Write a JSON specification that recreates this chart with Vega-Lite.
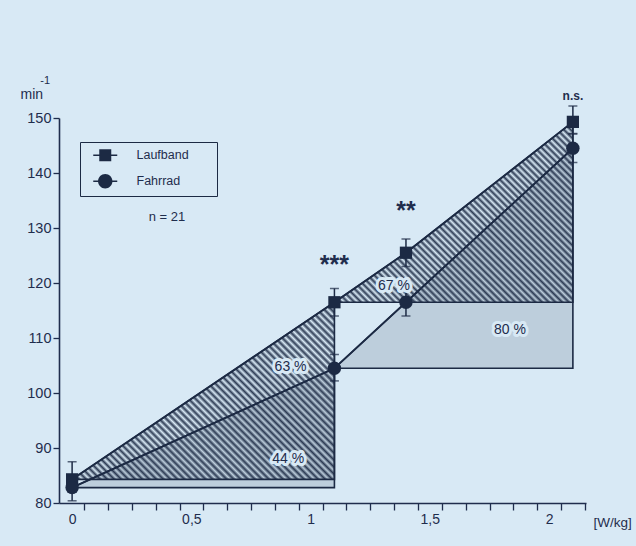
{
  "$schema": "https://vega.github.io/schema/vega-lite/v6.json",
  "width": 527,
  "height": 385,
  "autosize": {"type": "none"},
  "padding": {"left": 59, "top": 118, "right": 50, "bottom": 43},
  "background": "#d8e9f5",
  "config": {
    "view": {"stroke": null},
    "font": "Liberation Sans",
    "axis": {"domainColor": "#1f2d4d", "domainWidth": 1.6, "tickColor": "#1f2d4d", "tickWidth": 1.3, "labelColor": "#1f2d4d", "labelFont": "Liberation Sans", "labelFontSize": 14, "titleFont": "Liberation Sans", "titleFontSize": 14, "titleFontWeight": "normal", "titleColor": "#1f2d4d", "grid": false}
  },
  "datasets": {
    "means": [
      {"series": "Laufband", "x": 0, "y": 84.3},
      {"series": "Laufband", "x": 1.1, "y": 116.5},
      {"series": "Laufband", "x": 1.4, "y": 125.5},
      {"series": "Laufband", "x": 2.1, "y": 149.3},
      {"series": "Fahrrad", "x": 0, "y": 82.8},
      {"series": "Fahrrad", "x": 1.1, "y": 104.5},
      {"series": "Fahrrad", "x": 1.4, "y": 116.5},
      {"series": "Fahrrad", "x": 2.1, "y": 144.5}
    ],
    "err": [
      {"series": "Laufband", "x": 0, "y": 82.0, "y2": 87.5},
      {"series": "Laufband", "x": 1.1, "y": 114.0, "y2": 119.0},
      {"series": "Laufband", "x": 1.4, "y": 123.0, "y2": 128.0},
      {"series": "Laufband", "x": 2.1, "y": 147.2, "y2": 152.2},
      {"series": "Fahrrad", "x": 0, "y": 80.4, "y2": 84.5},
      {"series": "Fahrrad", "x": 1.1, "y": 102.2, "y2": 107.0},
      {"series": "Fahrrad", "x": 1.4, "y": 114.0, "y2": 119.0},
      {"series": "Fahrrad", "x": 2.1, "y": 141.9, "y2": 147.1}
    ],
    "regions": [
      {"r": "A", "x": 0, "y": 84.3, "b": 84.3},
      {"r": "A", "x": 1.1, "y": 116.5, "b": 84.3},
      {"r": "B", "x": 0, "y": 82.8, "b": 82.8},
      {"r": "B", "x": 1.1, "y": 104.5, "b": 82.8},
      {"r": "C", "x": 1.1, "y": 116.5, "b": 116.5},
      {"r": "C", "x": 1.4, "y": 125.5, "b": 116.5},
      {"r": "C", "x": 2.1, "y": 149.3, "b": 116.5},
      {"r": "D", "x": 1.1, "y": 104.5, "b": 104.5},
      {"r": "D", "x": 1.4, "y": 116.5, "b": 104.5},
      {"r": "D", "x": 2.1, "y": 144.5, "b": 104.5}
    ],
    "pct": [
      {"x": 0.916, "y": 104.8, "t": "63 %"},
      {"x": 0.906, "y": 88.0, "t": "44 %"},
      {"x": 1.35, "y": 119.5, "t": "67 %"},
      {"x": 1.836, "y": 111.5, "t": "80 %"}
    ],
    "stars": [
      {"x": 1.1, "y": 123.3, "t": "***"},
      {"x": 1.4, "y": 133.1, "t": "**"}
    ],
    "ns": [{"x": 2.1, "y": 154.0, "t": "n.s."}],
    "n": [{"x": 0.398, "y": 132.0, "t": "n = 21"}],
    "unit": [{"x": -0.113, "y": 156.7, "t": "-1"}]
  },
  "encoding": {
    "x": {"field": "x", "type": "quantitative", "scale": {"domain": [-0.055, 2.155], "nice": false, "zero": false},
      "axis": {"values": [0, 0.1, 0.2, 0.3, 0.4, 0.5, 0.6, 0.7, 0.8, 0.9, 1, 1.1, 1.2, 1.3, 1.4, 1.5, 1.6, 1.7, 1.8, 1.9, 2, 2.1], "tickOffset": 12, "labelOffset": -12, "labelExpr": "abs(datum.value*2-round(datum.value*2))<0.001 ? replace(toString(datum.value),'.',',') : ''", "labelOverlap": false, "labelFlush": false, "title": "[W/kg]", "titleFontSize": 13.5, "titleX": 534, "titleY": 19, "titleAlign": "left", "titleBaseline": "middle", "tickSize": 7, "labelPadding": 2}},
    "y": {"field": "y", "type": "quantitative", "scale": {"domain": [80, 150], "nice": false, "zero": false},
      "axis": {"values": [80, 90, 100, 110, 120, 130, 140, 150], "tickSize": 6, "labelPadding": 2, "labelFontSize": 14.5, "title": "min", "titleAngle": 0, "titleX": -39, "titleY": -24, "titleAlign": "left", "titleBaseline": "middle"}}
  },
  "layer": [
    {"data": {"name": "regions"}, "transform": [{"filter": "datum.r === 'D'"}],
      "mark": {"type": "area", "fill": "#1c2a44", "fillOpacity": 0.14, "stroke": "#1c2a44", "strokeWidth": 1.6},
      "encoding": {"y2": {"field": "b"}}},
    {"data": {"name": "regions"}, "transform": [{"filter": "datum.r === 'C'"}],
      "mark": {"type": "area", "fillOpacity": 0.9, "stroke": "#1c2a44", "strokeWidth": 1.6,
        "fill": {"gradient": "linear", "x1": 0, "y1": 1, "x2": 1.117, "y2": 0.155, "stops": [{"offset":0,"color":"#1c2a44"},{"offset":0.008,"color":"#1c2a4400"},{"offset":0.016,"color":"#1c2a44"},{"offset":0.024,"color":"#1c2a4400"},{"offset":0.032,"color":"#1c2a44"},{"offset":0.04,"color":"#1c2a4400"},{"offset":0.048,"color":"#1c2a44"},{"offset":0.056,"color":"#1c2a4400"},{"offset":0.064,"color":"#1c2a44"},{"offset":0.072,"color":"#1c2a4400"},{"offset":0.08,"color":"#1c2a44"},{"offset":0.088,"color":"#1c2a4400"},{"offset":0.096,"color":"#1c2a44"},{"offset":0.104,"color":"#1c2a4400"},{"offset":0.112,"color":"#1c2a44"},{"offset":0.12,"color":"#1c2a4400"},{"offset":0.128,"color":"#1c2a44"},{"offset":0.136,"color":"#1c2a4400"},{"offset":0.144,"color":"#1c2a44"},{"offset":0.152,"color":"#1c2a4400"},{"offset":0.16,"color":"#1c2a44"},{"offset":0.168,"color":"#1c2a4400"},{"offset":0.176,"color":"#1c2a44"},{"offset":0.184,"color":"#1c2a4400"},{"offset":0.192,"color":"#1c2a44"},{"offset":0.2,"color":"#1c2a4400"},{"offset":0.208,"color":"#1c2a44"},{"offset":0.216,"color":"#1c2a4400"},{"offset":0.224,"color":"#1c2a44"},{"offset":0.232,"color":"#1c2a4400"},{"offset":0.24,"color":"#1c2a44"},{"offset":0.248,"color":"#1c2a4400"},{"offset":0.256,"color":"#1c2a44"},{"offset":0.264,"color":"#1c2a4400"},{"offset":0.272,"color":"#1c2a44"},{"offset":0.28,"color":"#1c2a4400"},{"offset":0.288,"color":"#1c2a44"},{"offset":0.296,"color":"#1c2a4400"},{"offset":0.304,"color":"#1c2a44"},{"offset":0.312,"color":"#1c2a4400"},{"offset":0.32,"color":"#1c2a44"},{"offset":0.328,"color":"#1c2a4400"},{"offset":0.336,"color":"#1c2a44"},{"offset":0.344,"color":"#1c2a4400"},{"offset":0.352,"color":"#1c2a44"},{"offset":0.36,"color":"#1c2a4400"},{"offset":0.368,"color":"#1c2a44"},{"offset":0.376,"color":"#1c2a4400"},{"offset":0.384,"color":"#1c2a44"},{"offset":0.392,"color":"#1c2a4400"},{"offset":0.4,"color":"#1c2a44"},{"offset":0.408,"color":"#1c2a4400"},{"offset":0.416,"color":"#1c2a44"},{"offset":0.424,"color":"#1c2a4400"},{"offset":0.432,"color":"#1c2a44"},{"offset":0.44,"color":"#1c2a4400"},{"offset":0.448,"color":"#1c2a44"},{"offset":0.456,"color":"#1c2a4400"},{"offset":0.464,"color":"#1c2a44"},{"offset":0.472,"color":"#1c2a4400"},{"offset":0.48,"color":"#1c2a44"},{"offset":0.488,"color":"#1c2a4400"},{"offset":0.496,"color":"#1c2a44"},{"offset":0.504,"color":"#1c2a4400"},{"offset":0.512,"color":"#1c2a44"},{"offset":0.52,"color":"#1c2a4400"},{"offset":0.528,"color":"#1c2a44"},{"offset":0.536,"color":"#1c2a4400"},{"offset":0.544,"color":"#1c2a44"},{"offset":0.552,"color":"#1c2a4400"},{"offset":0.56,"color":"#1c2a44"},{"offset":0.568,"color":"#1c2a4400"},{"offset":0.576,"color":"#1c2a44"},{"offset":0.584,"color":"#1c2a4400"},{"offset":0.592,"color":"#1c2a44"},{"offset":0.6,"color":"#1c2a4400"},{"offset":0.608,"color":"#1c2a44"},{"offset":0.616,"color":"#1c2a4400"},{"offset":0.624,"color":"#1c2a44"},{"offset":0.632,"color":"#1c2a4400"},{"offset":0.64,"color":"#1c2a44"},{"offset":0.648,"color":"#1c2a4400"},{"offset":0.656,"color":"#1c2a44"},{"offset":0.664,"color":"#1c2a4400"},{"offset":0.672,"color":"#1c2a44"},{"offset":0.68,"color":"#1c2a4400"},{"offset":0.688,"color":"#1c2a44"},{"offset":0.696,"color":"#1c2a4400"},{"offset":0.704,"color":"#1c2a44"},{"offset":0.712,"color":"#1c2a4400"},{"offset":0.72,"color":"#1c2a44"},{"offset":0.728,"color":"#1c2a4400"},{"offset":0.736,"color":"#1c2a44"},{"offset":0.744,"color":"#1c2a4400"},{"offset":0.752,"color":"#1c2a44"},{"offset":0.76,"color":"#1c2a4400"},{"offset":0.768,"color":"#1c2a44"},{"offset":0.776,"color":"#1c2a4400"},{"offset":0.784,"color":"#1c2a44"},{"offset":0.792,"color":"#1c2a4400"},{"offset":0.8,"color":"#1c2a44"},{"offset":0.808,"color":"#1c2a4400"},{"offset":0.816,"color":"#1c2a44"},{"offset":0.824,"color":"#1c2a4400"},{"offset":0.832,"color":"#1c2a44"},{"offset":0.84,"color":"#1c2a4400"},{"offset":0.848,"color":"#1c2a44"},{"offset":0.856,"color":"#1c2a4400"},{"offset":0.864,"color":"#1c2a44"},{"offset":0.872,"color":"#1c2a4400"},{"offset":0.88,"color":"#1c2a44"},{"offset":0.888,"color":"#1c2a4400"},{"offset":0.896,"color":"#1c2a44"},{"offset":0.904,"color":"#1c2a4400"},{"offset":0.912,"color":"#1c2a44"},{"offset":0.92,"color":"#1c2a4400"},{"offset":0.928,"color":"#1c2a44"},{"offset":0.936,"color":"#1c2a4400"},{"offset":0.944,"color":"#1c2a44"},{"offset":0.952,"color":"#1c2a4400"},{"offset":0.96,"color":"#1c2a44"},{"offset":0.968,"color":"#1c2a4400"},{"offset":0.976,"color":"#1c2a44"},{"offset":0.984,"color":"#1c2a4400"},{"offset":0.992,"color":"#1c2a44"},{"offset":1,"color":"#1c2a4400"}]}},
      "encoding": {"y2": {"field": "b"}}},
    {"data": {"name": "regions"}, "transform": [{"filter": "datum.r === 'B'"}],
      "mark": {"type": "area", "fill": "#1c2a44", "fillOpacity": 0.14, "stroke": "#1c2a44", "strokeWidth": 1.6},
      "encoding": {"y2": {"field": "b"}}},
    {"data": {"name": "regions"}, "transform": [{"filter": "datum.r === 'A'"}],
      "mark": {"type": "area", "fillOpacity": 0.9, "stroke": "#1c2a44", "strokeWidth": 1.6,
        "fill": {"gradient": "linear", "x1": 0, "y1": 1, "x2": 1.151, "y2": 0.223, "stops": [{"offset":0,"color":"#1c2a44"},{"offset":0.008,"color":"#1c2a4400"},{"offset":0.016,"color":"#1c2a44"},{"offset":0.024,"color":"#1c2a4400"},{"offset":0.032,"color":"#1c2a44"},{"offset":0.04,"color":"#1c2a4400"},{"offset":0.048,"color":"#1c2a44"},{"offset":0.056,"color":"#1c2a4400"},{"offset":0.064,"color":"#1c2a44"},{"offset":0.072,"color":"#1c2a4400"},{"offset":0.08,"color":"#1c2a44"},{"offset":0.088,"color":"#1c2a4400"},{"offset":0.096,"color":"#1c2a44"},{"offset":0.104,"color":"#1c2a4400"},{"offset":0.112,"color":"#1c2a44"},{"offset":0.12,"color":"#1c2a4400"},{"offset":0.128,"color":"#1c2a44"},{"offset":0.136,"color":"#1c2a4400"},{"offset":0.144,"color":"#1c2a44"},{"offset":0.152,"color":"#1c2a4400"},{"offset":0.16,"color":"#1c2a44"},{"offset":0.168,"color":"#1c2a4400"},{"offset":0.176,"color":"#1c2a44"},{"offset":0.184,"color":"#1c2a4400"},{"offset":0.192,"color":"#1c2a44"},{"offset":0.2,"color":"#1c2a4400"},{"offset":0.208,"color":"#1c2a44"},{"offset":0.216,"color":"#1c2a4400"},{"offset":0.224,"color":"#1c2a44"},{"offset":0.232,"color":"#1c2a4400"},{"offset":0.24,"color":"#1c2a44"},{"offset":0.248,"color":"#1c2a4400"},{"offset":0.256,"color":"#1c2a44"},{"offset":0.264,"color":"#1c2a4400"},{"offset":0.272,"color":"#1c2a44"},{"offset":0.28,"color":"#1c2a4400"},{"offset":0.288,"color":"#1c2a44"},{"offset":0.296,"color":"#1c2a4400"},{"offset":0.304,"color":"#1c2a44"},{"offset":0.312,"color":"#1c2a4400"},{"offset":0.32,"color":"#1c2a44"},{"offset":0.328,"color":"#1c2a4400"},{"offset":0.336,"color":"#1c2a44"},{"offset":0.344,"color":"#1c2a4400"},{"offset":0.352,"color":"#1c2a44"},{"offset":0.36,"color":"#1c2a4400"},{"offset":0.368,"color":"#1c2a44"},{"offset":0.376,"color":"#1c2a4400"},{"offset":0.384,"color":"#1c2a44"},{"offset":0.392,"color":"#1c2a4400"},{"offset":0.4,"color":"#1c2a44"},{"offset":0.408,"color":"#1c2a4400"},{"offset":0.416,"color":"#1c2a44"},{"offset":0.424,"color":"#1c2a4400"},{"offset":0.432,"color":"#1c2a44"},{"offset":0.44,"color":"#1c2a4400"},{"offset":0.448,"color":"#1c2a44"},{"offset":0.456,"color":"#1c2a4400"},{"offset":0.464,"color":"#1c2a44"},{"offset":0.472,"color":"#1c2a4400"},{"offset":0.48,"color":"#1c2a44"},{"offset":0.488,"color":"#1c2a4400"},{"offset":0.496,"color":"#1c2a44"},{"offset":0.504,"color":"#1c2a4400"},{"offset":0.512,"color":"#1c2a44"},{"offset":0.52,"color":"#1c2a4400"},{"offset":0.528,"color":"#1c2a44"},{"offset":0.536,"color":"#1c2a4400"},{"offset":0.544,"color":"#1c2a44"},{"offset":0.552,"color":"#1c2a4400"},{"offset":0.56,"color":"#1c2a44"},{"offset":0.568,"color":"#1c2a4400"},{"offset":0.576,"color":"#1c2a44"},{"offset":0.584,"color":"#1c2a4400"},{"offset":0.592,"color":"#1c2a44"},{"offset":0.6,"color":"#1c2a4400"},{"offset":0.608,"color":"#1c2a44"},{"offset":0.616,"color":"#1c2a4400"},{"offset":0.624,"color":"#1c2a44"},{"offset":0.632,"color":"#1c2a4400"},{"offset":0.64,"color":"#1c2a44"},{"offset":0.648,"color":"#1c2a4400"},{"offset":0.656,"color":"#1c2a44"},{"offset":0.664,"color":"#1c2a4400"},{"offset":0.672,"color":"#1c2a44"},{"offset":0.68,"color":"#1c2a4400"},{"offset":0.688,"color":"#1c2a44"},{"offset":0.696,"color":"#1c2a4400"},{"offset":0.704,"color":"#1c2a44"},{"offset":0.712,"color":"#1c2a4400"},{"offset":0.72,"color":"#1c2a44"},{"offset":0.728,"color":"#1c2a4400"},{"offset":0.736,"color":"#1c2a44"},{"offset":0.744,"color":"#1c2a4400"},{"offset":0.752,"color":"#1c2a44"},{"offset":0.76,"color":"#1c2a4400"},{"offset":0.768,"color":"#1c2a44"},{"offset":0.776,"color":"#1c2a4400"},{"offset":0.784,"color":"#1c2a44"},{"offset":0.792,"color":"#1c2a4400"},{"offset":0.8,"color":"#1c2a44"},{"offset":0.808,"color":"#1c2a4400"},{"offset":0.816,"color":"#1c2a44"},{"offset":0.824,"color":"#1c2a4400"},{"offset":0.832,"color":"#1c2a44"},{"offset":0.84,"color":"#1c2a4400"},{"offset":0.848,"color":"#1c2a44"},{"offset":0.856,"color":"#1c2a4400"},{"offset":0.864,"color":"#1c2a44"},{"offset":0.872,"color":"#1c2a4400"},{"offset":0.88,"color":"#1c2a44"},{"offset":0.888,"color":"#1c2a4400"},{"offset":0.896,"color":"#1c2a44"},{"offset":0.904,"color":"#1c2a4400"},{"offset":0.912,"color":"#1c2a44"},{"offset":0.92,"color":"#1c2a4400"},{"offset":0.928,"color":"#1c2a44"},{"offset":0.936,"color":"#1c2a4400"},{"offset":0.944,"color":"#1c2a44"},{"offset":0.952,"color":"#1c2a4400"},{"offset":0.96,"color":"#1c2a44"},{"offset":0.968,"color":"#1c2a4400"},{"offset":0.976,"color":"#1c2a44"},{"offset":0.984,"color":"#1c2a4400"},{"offset":0.992,"color":"#1c2a44"},{"offset":1,"color":"#1c2a4400"}]}},
      "encoding": {"y2": {"field": "b"}}},
    {"data": {"name": "means"},
      "mark": {"type": "line", "color": "#1c2a44", "strokeWidth": 1.8},
      "encoding": {"detail": {"field": "series"}}},
    {"data": {"name": "err"},
      "mark": {"type": "rule", "color": "#1c2a44", "strokeWidth": 1.5},
      "encoding": {"y2": {"field": "y2"}}},
    {"data": {"name": "err"},
      "transform": [{"fold": ["y", "y2"], "as": ["k", "y"]}],
      "mark": {"type": "tick", "orient": "horizontal", "color": "#1c2a44", "size": 9, "thickness": 1.5}},
    {"data": {"name": "means"}, "transform": [{"filter": "datum.series === 'Laufband'"}],
      "mark": {"type": "point", "shape": "square", "filled": true, "opacity": 1, "color": "#1c2a44", "size": 150}},
    {"data": {"name": "means"}, "transform": [{"filter": "datum.series === 'Fahrrad'"}],
      "mark": {"type": "point", "shape": "circle", "filled": true, "opacity": 1, "color": "#1c2a44", "size": 180}},
    {"data": {"name": "means"},
      "mark": {"type": "point", "filled": true, "opacity": 0, "fill": "#1c2a44", "size": 144},
      "encoding": {
        "shape": {"field": "series", "type": "nominal", "scale": {"domain": ["Laufband", "Fahrrad"], "range": ["M-2,-0.13H2V0.13H-2ZM-1,-1H1V1H-1Z", "M-2,-0.13H2V0.13H-2ZM1.2,0A1.2,1.2,0,1,1,-1.2,0A1.2,1.2,0,1,1,1.2,0Z"]},
          "legend": {"orient": "none", "legendX": 21, "legendY": 24, "title": "MM", "titleOrient": "right", "titleColor": "rgba(0,0,0,0)", "titleFontSize": 8, "titlePadding": 7, "padding": 7, "strokeColor": "#1c2a44", "symbolSize": 144, "symbolOpacity": 1, "symbolFillColor": "#1c2a44", "symbolStrokeColor": "#1c2a44", "symbolStrokeWidth": 0, "symbolOffset": 12, "labelOffset": 25, "rowPadding": 12, "labelFontSize": 12.5, "labelColor": "#1f2d4d", "labelFont": "Liberation Sans",
            "encode": {"symbols": {"update": {"fill": {"value": "#1c2a44"}}}}}}
      }},
    {"data": {"name": "pct"},
      "mark": {"type": "text", "fontSize": 14, "color": "#d8e9f5", "stroke": "#d8e9f5", "strokeWidth": 6, "strokeJoin": "round"},
      "encoding": {"text": {"field": "t"}}},
    {"data": {"name": "pct"},
      "mark": {"type": "text", "fontSize": 14, "color": "#1f2d4d"},
      "encoding": {"text": {"field": "t"}}},
    {"data": {"name": "stars"},
      "mark": {"type": "text", "fontSize": 25, "fontWeight": "bold", "color": "#1f2d4d"},
      "encoding": {"text": {"field": "t"}}},
    {"data": {"name": "ns"},
      "mark": {"type": "text", "fontSize": 12, "fontWeight": "bold", "color": "#1f2d4d"},
      "encoding": {"text": {"field": "t"}}},
    {"data": {"name": "n"},
      "mark": {"type": "text", "fontSize": 13, "color": "#1f2d4d"},
      "encoding": {"text": {"field": "t"}}},
    {"data": {"name": "unit"},
      "mark": {"type": "text", "fontSize": 11, "color": "#1f2d4d"},
      "encoding": {"text": {"field": "t"}}}
  ]
}
